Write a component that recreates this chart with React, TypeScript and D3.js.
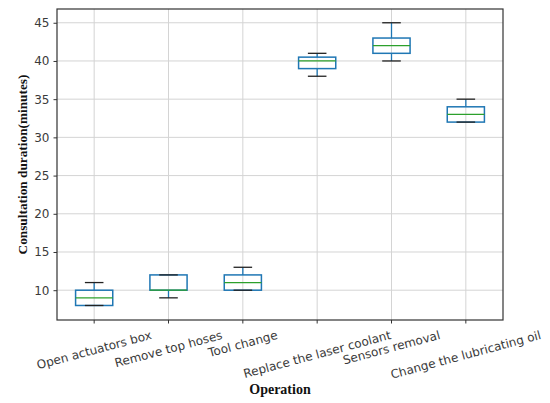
import { useEffect, useRef } from 'react'
import * as d3 from 'd3'

const operations = [
  'Open actuators box',
  'Remove top hoses',
  'Tool change',
  'Replace the laser coolant',
  'Sensors removal',
  'Change the lubricating oil',
]
const whiskerLow = [8, 9, 10, 38, 40, 32]
const q1 = [8, 10, 10, 39, 41, 32]
const medians = [9, 10, 11, 40, 42, 33]
const q3 = [10, 12, 12, 40.5, 43, 34]
const whiskerHigh = [11, 12, 13, 41, 45, 35]
const yTicks = [10, 15, 20, 25, 30, 35, 40, 45]

const W = 550
const H = 403

export default function App() {
  const ref = useRef<SVGSVGElement>(null)

  useEffect(() => {
    const svg = d3.select(ref.current)
    svg.selectAll('*').remove()

    const m = { left: 57, right: 47, top: 9, bottom: 83 }
    const pw = W - m.left - m.right
    const ph = H - m.top - m.bottom

    const x = d3.scaleBand().domain(operations).range([0, pw]).padding(0)
    const y = d3.scaleLinear().domain([6.1, 46.8]).range([ph, 0])

    const g = svg.append('g').attr('transform', `translate(${m.left},${m.top})`)
    const bw = x.bandwidth()
    const cx = (d: string) => (x(d) as number) + bw / 2

    // grid
    g.selectAll('.gy').data(yTicks).join('line')
      .attr('x1', 0).attr('x2', pw)
      .attr('y1', d => y(d)).attr('y2', d => y(d))
      .attr('stroke', '#d4d4d4').attr('stroke-width', 1)
    g.selectAll('.gx').data(operations).join('line')
      .attr('x1', d => cx(d)).attr('x2', d => cx(d))
      .attr('y1', 0).attr('y2', ph)
      .attr('stroke', '#d4d4d4').attr('stroke-width', 1)

    // boxes
    const data = operations.map((op, i) => ({
      op, lo: whiskerLow[i], q1: q1[i], med: medians[i], q3: q3[i], hi: whiskerHigh[i],
    }))
    const boxes = g.selectAll('.box').data(data).join('g')
    boxes.append('line')
      .attr('x1', d => cx(d.op)).attr('x2', d => cx(d.op))
      .attr('y1', d => y(d.lo)).attr('y2', d => y(d.q1))
      .attr('stroke', '#1f77b4').attr('stroke-width', 1.3)
    boxes.append('line')
      .attr('x1', d => cx(d.op)).attr('x2', d => cx(d.op))
      .attr('y1', d => y(d.q3)).attr('y2', d => y(d.hi))
      .attr('stroke', '#1f77b4').attr('stroke-width', 1.3)
    boxes.append('rect')
      .attr('x', d => cx(d.op) - bw / 4).attr('width', bw / 2)
      .attr('y', d => y(d.q3)).attr('height', d => y(d.q1) - y(d.q3))
      .attr('fill', 'none').attr('stroke', '#1f77b4').attr('stroke-width', 1.5)
    boxes.append('line')
      .attr('x1', d => cx(d.op) - bw / 4).attr('x2', d => cx(d.op) + bw / 4)
      .attr('y1', d => y(d.med)).attr('y2', d => y(d.med))
      .attr('stroke', '#2ca02c').attr('stroke-width', 1.3)
    ;['lo', 'hi'].forEach(k => {
      boxes.append('line')
        .attr('x1', d => cx(d.op) - bw / 8).attr('x2', d => cx(d.op) + bw / 8)
        .attr('y1', (d: any) => y(d[k])).attr('y2', (d: any) => y(d[k]))
        .attr('stroke', '#222').attr('stroke-width', 1.3)
    })

    // frame
    g.append('rect').attr('width', pw).attr('height', ph)
      .attr('fill', 'none').attr('stroke', '#333').attr('stroke-width', 1.2)

    // y axis
    const ya = g.append('g').call(d3.axisLeft(y).tickValues(yTicks).tickSize(3.5).tickPadding(4))
    ya.select('.domain').remove()
    ya.selectAll('line').attr('stroke', '#333')
    ya.selectAll('text').attr('fill', '#3a3a3a').style('font-family', 'DejaVu Sans').style('font-size', '12px')

    // x ticks
    g.selectAll('.xt').data(operations).join('line')
      .attr('x1', d => cx(d)).attr('x2', d => cx(d))
      .attr('y1', ph).attr('y2', ph + 3.5)
      .attr('stroke', '#333')

    // x tick labels rotated 15°, bbox centred under the tick
    const top = ph + 9
    const a = (15 * Math.PI) / 180
    g.selectAll('.xl').data(operations).join('text')
      .text(d => d)
      .attr('text-anchor', 'middle')
      .attr('dominant-baseline', 'central')
      .attr('fill', '#3a3a3a')
      .style('font-family', 'DejaVu Sans').style('font-size', '12px')
      .each(function (d) {
        const t = this as SVGTextElement
        const len = t.getComputedTextLength()
        const bh = len * Math.sin(a) + 12 * Math.cos(a)
        d3.select(t).attr('transform', `translate(${cx(d)},${top + bh / 2}) rotate(-15)`)
      })

    // axis titles
    svg.append('text')
      .attr('x', m.left + pw / 2)
      .attr('y', H - 9)
      .attr('text-anchor', 'middle')
      .style('font-family', 'Liberation Serif').style('font-weight', 'bold').style('font-size', '14px')
      .attr('fill', '#111')
      .text('Operation')
    svg.append('text')
      .attr('transform', `translate(22,${m.top + ph / 2}) rotate(-90)`)
      .attr('text-anchor', 'middle')
      .attr('dominant-baseline', 'central')
      .style('font-family', 'Liberation Serif').style('font-weight', 'bold').style('font-size', '13.3px')
      .attr('fill', '#111')
      .text('Consultation duration(minutes)')
  }, [])

  return (
    <svg ref={ref} width={W} height={H}
      style={{ position: 'absolute', left: 0, top: 0, background: '#fff' }} />
  )
}
